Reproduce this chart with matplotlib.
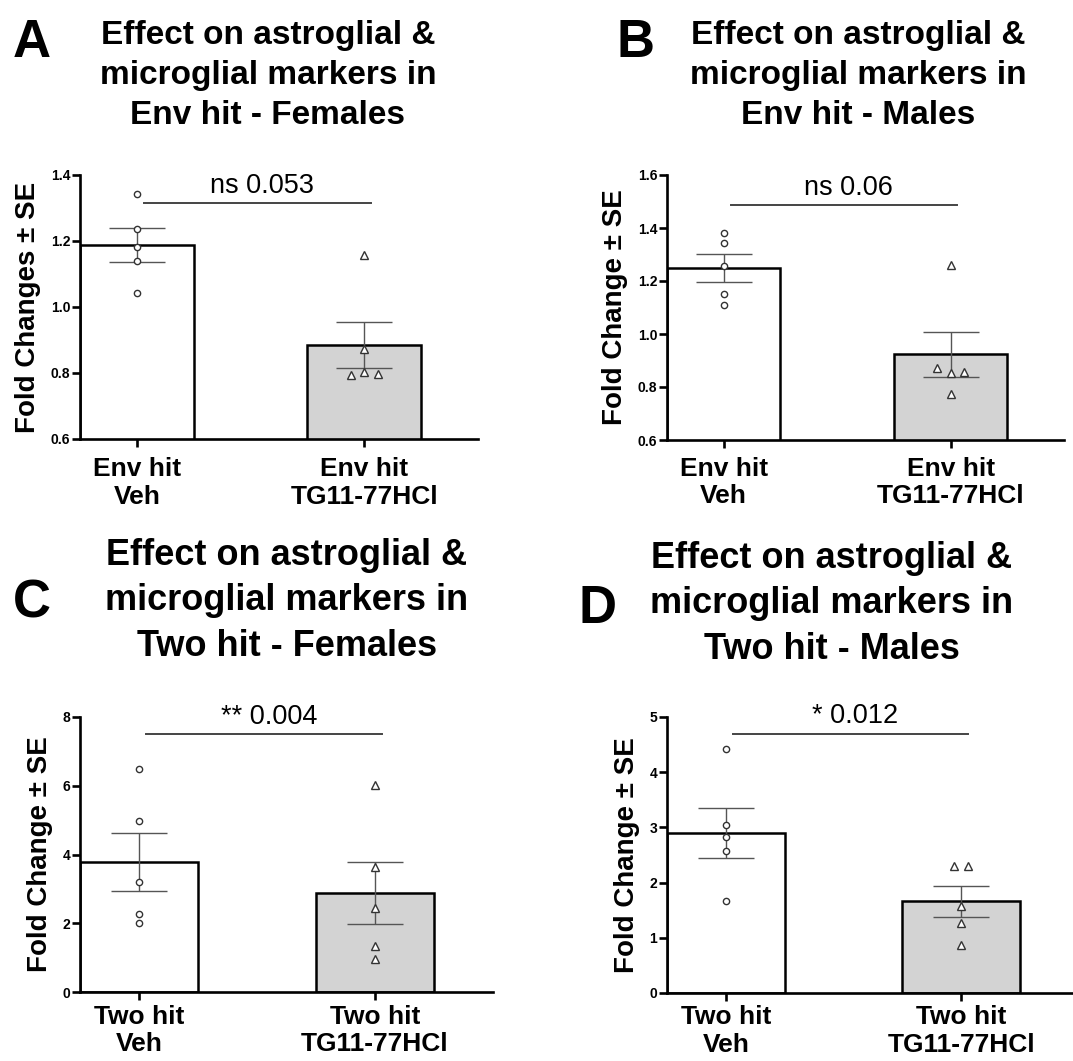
import numpy as np
import matplotlib
matplotlib.use('Agg')
import matplotlib.pyplot as plt

plt.rcParams['font.family'] = ['Liberation Sans', 'DejaVu Sans']

# ---- data ----
groups_env = ['Env hit\nVeh', 'Env hit\nTG11-77HCl']
groups_two = ['Two hit\nVeh', 'Two hit\nTG11-77HCl']

a_means = [1.188, 0.885]
a_se = [0.051, 0.070]
a_veh = [1.342, 1.237, 1.181, 1.139, 1.042]
a_tg = [1.158, 0.874, 0.794, 0.802, 0.797]

b_means = [1.249, 0.923]
b_se = [0.053, 0.085]
b_veh = [1.380, 1.345, 1.257, 1.152, 1.110]
b_tg = [1.260, 0.870, 0.853, 0.858, 0.772]

c_means = [3.79, 2.87]
c_se = [0.85, 0.90]
c_veh = [6.48, 4.98, 3.20, 2.27, 2.02]
c_tg = [6.01, 3.63, 2.43, 1.33, 0.96]

d_means = [2.90, 1.665]
d_se = [0.45, 0.28]
d_veh = [4.425, 3.039, 2.82, 2.567, 1.671]
d_tg = [2.30, 2.30, 1.58, 1.27, 0.866]

a_ticks = [0.6, 0.8, 1.0, 1.2, 1.4]
b_ticks = [0.6, 0.8, 1.0, 1.2, 1.4, 1.6]
c_ticks = [0, 2, 4, 6, 8]
d_ticks = [0, 1, 2, 3, 4, 5]

a_sig, a_sig_y = 'ns 0.053', 1.316
b_sig, b_sig_y = 'ns 0.06', 1.487
c_sig, c_sig_y = '** 0.004', 7.51
d_sig, d_sig_y = '* 0.012', 4.70

title_a = 'Effect on astroglial &\nmicroglial markers in\nEnv hit - Females'
title_b = 'Effect on astroglial &\nmicroglial markers in\nEnv hit - Males'
title_c = 'Effect on astroglial &\nmicroglial markers in\nTwo hit - Females'
title_d = 'Effect on astroglial &\nmicroglial markers in\nTwo hit - Males'


def spread(vals, span):
    # push points that sit on top of each other apart sideways
    vals = np.asarray(vals, float)
    offs = np.zeros(len(vals))
    thr = 0.027 * span
    used = np.zeros(len(vals), bool)
    for i in range(len(vals)):
        if used[i]:
            continue
        idx = [j for j in range(len(vals)) if not used[j] and abs(vals[j] - vals[i]) < thr]
        for k, j in enumerate(idx):
            offs[j] = (k - (len(idx) - 1) / 2) * 0.06
            used[j] = True
    return offs


def panel(ax, labels, means, se, veh, tg, ticks, sig, sig_y, xmax, ylab, xpad):
    x = np.arange(len(means))
    ax.bar(x, means, width=0.5, color=['white', '#d3d3d3'], edgecolor='black',
           linewidth=1.8, zorder=2)
    ax.errorbar(x, means, yerr=se, fmt='none', ecolor='#555555', elinewidth=1.0,
                capsize=20, capthick=1.0, zorder=3)
    span = ticks[-1] - ticks[0]
    ax.plot(x[0] + spread(veh, span), veh, 'o', ms=4.5, mfc='white', mec='#333333',
            mew=1.0, zorder=4, clip_on=False)
    ax.plot(x[1] + spread(tg, span), tg, '^', ms=6, mfc='white', mec='#333333',
            mew=1.0, zorder=4, clip_on=False)
    ax.plot([0.03, 1.03], [sig_y, sig_y], color='#444444', lw=1.4, clip_on=False)
    ax.annotate(sig, (0.55, sig_y), xytext=(0, 3), textcoords='offset points',
                ha='center', va='bottom', fontsize=19.5, annotation_clip=False)
    ax.set_xlim(-0.25, xmax)
    ax.set_ylim(ticks[0], ticks[-1])
    ax.set_yticks(ticks)
    if isinstance(ticks[0], float):
        ax.set_yticklabels(['%.1f' % t for t in ticks])
    ax.set_xticks(x)
    ax.set_xticklabels(labels, fontsize=19, fontweight='bold', linespacing=1.2)
    for t in ax.get_yticklabels():
        t.set_fontweight('bold')
        t.set_fontsize(10)
    ax.set_ylabel(ylab, fontsize=20, fontweight='bold', labelpad=7)
    for s in ['top', 'right']:
        ax.spines[s].set_visible(False)
    for s in ['left', 'bottom']:
        ax.spines[s].set_linewidth(1.9)
    ax.tick_params(width=1.9, length=6, pad=1)
    ax.tick_params(axis='x', pad=xpad)


fig = plt.figure(figsize=(10.73, 10.61), dpi=100)
W, H = 1073.0, 1061.0


def add_ax(l, r, top, bot):
    return fig.add_axes([l / W, 1 - bot / H, (r - l) / W, (bot - top) / H])


ax_a = add_ax(80, 478, 175, 439)
ax_b = add_ax(667, 1064, 175, 440)
ax_c = add_ax(80, 493, 717, 992)
ax_d = add_ax(667, 1072, 717, 993)

panel(ax_a, groups_env, a_means, a_se, a_veh, a_tg, a_ticks, a_sig, a_sig_y, 1.5,
      'Fold Changes \u00b1 SE', 7)
panel(ax_b, groups_env, b_means, b_se, b_veh, b_tg, b_ticks, b_sig, b_sig_y, 1.5,
      'Fold Change \u00b1 SE', 6)
panel(ax_c, groups_two, c_means, c_se, c_veh, c_tg, c_ticks, c_sig, c_sig_y, 1.5,
      'Fold Change \u00b1 SE', 3)
panel(ax_d, groups_two, d_means, d_se, d_veh, d_tg, d_ticks, d_sig, d_sig_y, 1.47,
      'Fold Change \u00b1 SE', 3)

# titles and panel letters
tkw = dict(ha='center', va='top', fontweight='bold', linespacing=1.38)
fig.text(268 / W, 1 - 20 / H, title_a, fontsize=24, **tkw)
fig.text(858 / W, 1 - 20 / H, title_b, fontsize=24, **tkw)
fig.text(287 / W, 1 - 538 / H, title_c, fontsize=26, **tkw)
fig.text(832 / W, 1 - 541 / H, title_d, fontsize=26, **tkw)

lkw = dict(ha='left', va='top', fontweight='bold', fontsize=38)
fig.text(13 / W, 1 - 18 / H, 'A', **lkw)
fig.text(616 / W, 1 - 18 / H, 'B', **lkw)
fig.text(13 / W, 1 - 578 / H, 'C', **lkw)
fig.text(578 / W, 1 - 584 / H, 'D', **lkw)

fig.savefig('out.png', dpi=100)
